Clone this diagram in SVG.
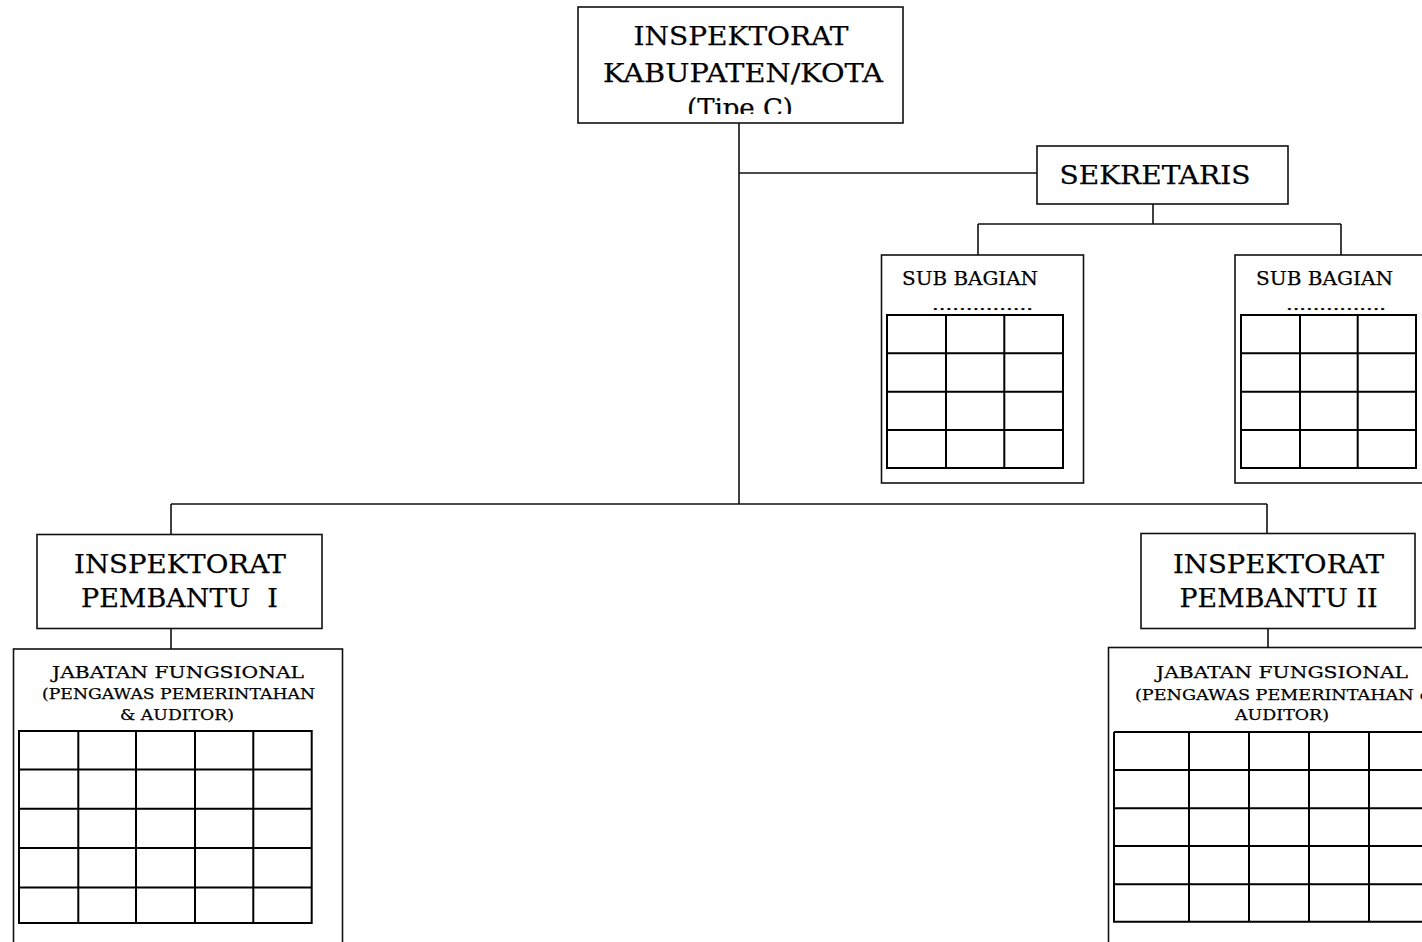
<svg xmlns="http://www.w3.org/2000/svg" width="1422" height="942" viewBox="0 0 1422 942">
<style>
.box{fill:#fff;stroke:#111;stroke-width:1.6}
.grid{fill:none;stroke:#000;stroke-width:2}
.conn{fill:none;stroke:#111;stroke-width:1.6}
text{font-family:"DejaVu Serif","Liberation Serif",serif;fill:#000;stroke:#000;stroke-width:0.25}
.big{font-size:26px}
.mid{font-size:19px}
.sm1{font-size:17px}
.sm2{font-size:15px}
.dots{font-size:14px}
</style>
<defs>
<clipPath id="clipTop"><rect x="578" y="7" width="325" height="107"/></clipPath>
</defs>
<rect width="1422" height="942" fill="#fff"/>
<g id="connectors">
<path class="conn" d="M739 123V504M739 173H1037M1153 204V224M978 224H1341M978 224V255M1341 224V255M171 504H1267M171 504V534M1267 504V533M171 628V649M1268 628V647"/>
</g>
<g id="inspektorat-kabupaten">
<rect class="box" x="578" y="7" width="325" height="116"/>
<g clip-path="url(#clipTop)">
<text class="big" x="741" y="45" text-anchor="middle" textLength="215" lengthAdjust="spacingAndGlyphs">INSPEKTORAT</text>
<text class="big" x="743" y="82" text-anchor="middle" textLength="280" lengthAdjust="spacingAndGlyphs">KABUPATEN/KOTA</text>
<text class="big" x="740" y="117" text-anchor="middle" textLength="106" lengthAdjust="spacingAndGlyphs">(Tipe C)</text>
</g>
</g>
<g id="sekretaris">
<rect class="box" x="1037" y="146" width="251" height="58"/>
<text class="big" x="1155" y="184" text-anchor="middle" textLength="191" lengthAdjust="spacingAndGlyphs">SEKRETARIS</text>
</g>
<g id="sub-bagian-1">
<rect class="box" x="881.5" y="255" width="202" height="228"/>
<text class="mid" x="902" y="285" textLength="136" lengthAdjust="spacingAndGlyphs">SUB BAGIAN</text>
<text class="dots" x="932" y="310" textLength="101" lengthAdjust="spacingAndGlyphs">...............</text>
<path class="grid" d="M887 315H1063V468H887ZM946 315V468M1004.3 315V468M887 353.3H1063M887 391.7H1063M887 430H1063"/>
</g>
<g id="sub-bagian-2">
<rect class="box" x="1235" y="255" width="210" height="228"/>
<text class="mid" x="1256" y="285" textLength="137" lengthAdjust="spacingAndGlyphs">SUB BAGIAN</text>
<text class="dots" x="1286" y="310" textLength="100" lengthAdjust="spacingAndGlyphs">...............</text>
<path class="grid" d="M1241 315H1416V468H1241ZM1300 315V468M1357.7 315V468M1241 353.3H1416M1241 391.7H1416M1241 430H1416"/>
</g>
<g id="inspektorat-pembantu-1">
<rect class="box" x="37" y="534.5" width="285" height="94"/>
<text class="big" x="180" y="573" text-anchor="middle" textLength="212" lengthAdjust="spacingAndGlyphs">INSPEKTORAT</text>
<text class="big" x="81" y="607" textLength="197" lengthAdjust="spacingAndGlyphs" xml:space="preserve">PEMBANTU  I</text>
</g>
<g id="jabatan-fungsional-1">
<rect class="box" x="13.5" y="649" width="329" height="310"/>
<text class="sm1" x="178" y="678" text-anchor="middle" textLength="252" lengthAdjust="spacingAndGlyphs">JABATAN FUNGSIONAL</text>
<text class="sm2" x="178.5" y="699" text-anchor="middle" textLength="273" lengthAdjust="spacingAndGlyphs">(PENGAWAS PEMERINTAHAN</text>
<text class="sm2" x="177" y="720" text-anchor="middle" textLength="114" lengthAdjust="spacingAndGlyphs">&amp; AUDITOR)</text>
<path class="grid" d="M19 731H311.7V923H19ZM78.3 731V923M136 731V923M195 731V923M253.3 731V923M19 769.5H311.7M19 808.7H311.7M19 848H311.7M19 887.5H311.7"/>
</g>
<g id="inspektorat-pembantu-2">
<rect class="box" x="1141" y="533.5" width="274" height="95"/>
<text class="big" x="1278.5" y="573" text-anchor="middle" textLength="211" lengthAdjust="spacingAndGlyphs">INSPEKTORAT</text>
<text class="big" x="1278.5" y="607" text-anchor="middle" textLength="198" lengthAdjust="spacingAndGlyphs">PEMBANTU II</text>
</g>
<g id="jabatan-fungsional-2">
<rect class="box" x="1108.5" y="647.5" width="340" height="310"/>
<text class="sm1" x="1282" y="678" text-anchor="middle" textLength="252" lengthAdjust="spacingAndGlyphs">JABATAN FUNGSIONAL</text>
<text class="sm2" x="1135" y="700" textLength="300" lengthAdjust="spacingAndGlyphs">(PENGAWAS PEMERINTAHAN &amp;</text>
<text class="sm2" x="1282" y="720" text-anchor="middle" textLength="94" lengthAdjust="spacingAndGlyphs">AUDITOR)</text>
<path class="grid" d="M1114 732H1440M1114 732V921.7H1440M1189 732V921.7M1249 732V921.7M1309 732V921.7M1369 732V921.7M1429 732V921.7M1114 770H1440M1114 808.3H1440M1114 846H1440M1114 884.3H1440"/>
</g>
</svg>
